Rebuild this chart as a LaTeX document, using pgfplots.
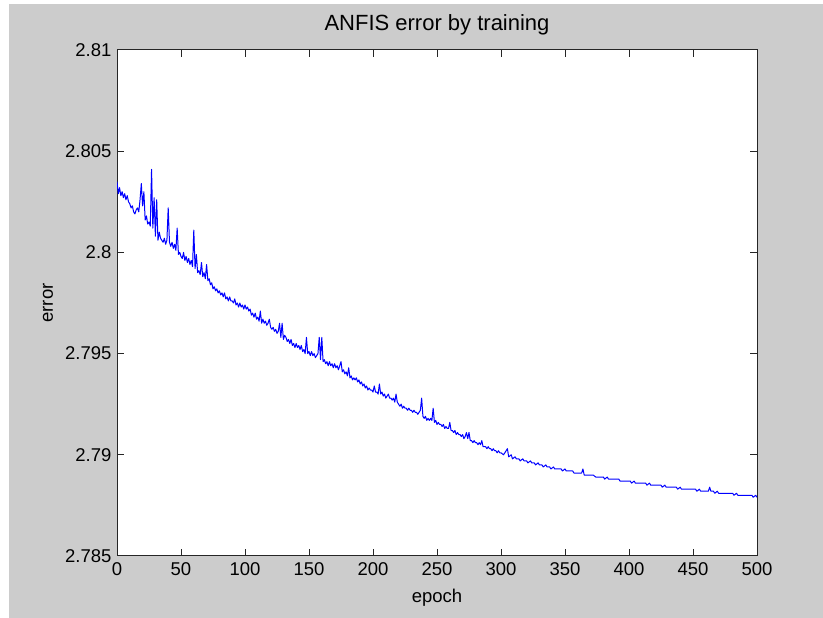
\documentclass[border=0pt]{standalone}
\usepackage{fontspec}
\setmainfont{Liberation Sans}
\usepackage{pgfplots}
\pgfplotsset{compat=1.18}
\definecolor{figgray}{RGB}{204,204,204}
\begin{document}
\begin{tikzpicture}
\fill[white] (0pt,0pt) rectangle (823pt,618pt);
\useasboundingbox (0pt,0pt) rectangle (823pt,618pt);
\fill[figgray] (9pt,0pt) rectangle (823pt,614pt);
\begin{axis}[
  at={(117pt,62pt)}, anchor=south west,
  scale only axis, width=640pt, height=506pt,
  xmin=0, xmax=500, ymin=2.785, ymax=2.81,
  axis background/.style={fill=white},
  axis line style={black!85, line width=1pt},
  xtick={0,50,100,150,200,250,300,350,400,450,500},
  xticklabels={0,50,100,150,200,250,300,350,400,450,500},
  ytick={2.785,2.79,2.795,2.8,2.805,2.81},
  yticklabels={2.785,2.79,2.795,2.8,2.805,2.81},
  tick align=inside, xtick pos=both, ytick pos=both,
  xticklabel pos=left, yticklabel pos=left,
  major tick length=7pt,
  tick style={black!85, line width=1pt},
  ticklabel style={font=\fontsize{18.5}{22}\selectfont},
  xticklabel style={yshift=-3pt},
  yticklabel style={xshift=-2pt},
  title={ANFIS error by training},
  title style={font=\fontsize{22}{26}\selectfont, at={(axis description cs:0.5,1)}, anchor=base, yshift=13pt},
  xlabel={epoch},
  xlabel style={font=\fontsize{18.5}{22}\selectfont, at={(axis description cs:0.5,0)}, anchor=base, yshift=-47pt},
  ylabel={error},
  ylabel style={font=\fontsize{18.5}{22}\selectfont, at={(axis description cs:-0.1,0.5)}, anchor=base},
]
\addplot[blue, line width=1pt, line join=round] coordinates {
(0,2.8035)(1,2.8029)(2,2.8032)(3,2.8028)(4,2.8030)(5,2.8027)(6,2.8029)(7,2.8026)(8,2.8028)(9,2.8025)
(10,2.8024)(11,2.8022)(12,2.8023)(13,2.8020)(14,2.8019)(15,2.8021)(16,2.8022)(17,2.8020)(18,2.8026)(19,2.8034)
(20,2.8023)(21,2.8030)(22,2.8016)(23,2.8018)(24,2.8014)(25,2.8015)(26,2.8013)(27,2.8041)(28,2.8012)(29,2.8027)
(30,2.8008)(31,2.8026)(32,2.8006)(33,2.8010)(34,2.8007)(35,2.8006)(36,2.8005)(37,2.8007)(38,2.8004)(39,2.8006)
(40,2.8022)(41,2.8005)(42,2.8003)(43,2.8005)(44,2.8002)(45,2.8004)(46,2.8001)(47,2.8012)(48,2.7999)(49,2.8000)
(50,2.7998)(51,2.7997)(52,2.8000)(53,2.7996)(54,2.7998)(55,2.7995)(56,2.7997)(57,2.7994)(58,2.7996)(59,2.7993)
(60,2.8011)(61,2.7992)(62,2.7999)(63,2.7990)(64,2.7991)(65,2.7989)(66,2.7995)(67,2.7988)(68,2.7990)(69,2.7987)
(70,2.7994)(71,2.7986)(72,2.7987)(73,2.7984)(74,2.7985)(75,2.7982)(76,2.7983)(77,2.7981)(78,2.7982)(79,2.7980)
(80,2.7981)(81,2.7979)(82,2.7980)(83,2.7978)(84,2.7980)(85,2.7977)(86,2.7978)(87,2.7976)(88,2.7978)(89,2.7976)
(90,2.7976)(91,2.7975)(92,2.7977)(93,2.7974)(94,2.7975)(95,2.7973)(96,2.7975)(97,2.7973)(98,2.7974)(99,2.7972)
(100,2.7974)(101,2.7972)(102,2.7973)(103,2.7971)(104,2.7972)(105,2.7969)(106,2.7970)(107,2.7968)(108,2.7970)(109,2.7967)
(110,2.7968)(111,2.7966)(112,2.7971)(113,2.7965)(114,2.7967)(115,2.7965)(116,2.7966)(117,2.7964)(118,2.7965)(119,2.7967)
(120,2.7963)(121,2.7962)(122,2.7963)(123,2.7961)(124,2.7962)(125,2.7960)(126,2.7961)(127,2.7965)(128,2.7958)(129,2.7965)
(130,2.7957)(131,2.7959)(132,2.7958)(133,2.7956)(134,2.7957)(135,2.7955)(136,2.7957)(137,2.7954)(138,2.7955)(139,2.7953)
(140,2.7955)(141,2.7953)(142,2.7954)(143,2.7952)(144,2.7954)(145,2.7951)(146,2.7952)(147,2.7950)(148,2.7958)(149,2.7950)
(150,2.7951)(151,2.7949)(152,2.7951)(153,2.7949)(154,2.7950)(155,2.7948)(156,2.7949)(157,2.7950)(158,2.7958)(159,2.7947)
(160,2.7958)(161,2.7946)(162,2.7947)(163,2.7945)(164,2.7946)(165,2.7944)(166,2.7946)(167,2.7944)(168,2.7945)(169,2.7943)
(170,2.7945)(171,2.7943)(172,2.7944)(173,2.7942)(174,2.7944)(175,2.7946)(176,2.7941)(177,2.7942)(178,2.7940)(179,2.7941)
(180,2.7939)(181,2.7943)(182,2.7938)(183,2.7939)(184,2.7937)(185,2.7938)(186,2.7937)(187,2.7938)(188,2.7936)(189,2.7937)
(190,2.7935)(191,2.7936)(192,2.7934)(193,2.7935)(194,2.7933)(195,2.7934)(196,2.7932)(197,2.7933)(198,2.7932)(199,2.7932)
(200,2.7931)(201,2.7934)(202,2.7931)(203,2.7931)(204,2.7930)(205,2.7935)(206,2.7930)(207,2.7931)(208,2.7929)(209,2.7930)
(210,2.7928)(211,2.7929)(212,2.7930)(213,2.7928)(214,2.7928)(215,2.7927)(216,2.7928)(217,2.7926)(218,2.7930)(219,2.7926)
(220,2.7925)(221,2.7924)(222,2.7925)(223,2.7923)(224,2.7924)(225,2.7923)(226,2.7923)(227,2.7922)(228,2.7923)(229,2.7922)
(230,2.7922)(231,2.7921)(232,2.7922)(233,2.7921)(234,2.7921)(235,2.7920)(236,2.7921)(237,2.7922)(238,2.7928)(239,2.7919)
(240,2.7918)(241,2.7919)(242,2.7917)(243,2.7918)(244,2.7917)(245,2.7918)(246,2.7917)(247,2.7923)(248,2.7916)(249,2.7917)
(250,2.7915)(251,2.7916)(252,2.7915)(253,2.7915)(254,2.7914)(255,2.7915)(256,2.7913)(257,2.7914)(258,2.7913)(259,2.7913)
(260,2.7916)(261,2.7912)(262,2.7912)(263,2.7911)(264,2.7912)(265,2.7910)(266,2.7911)(267,2.7910)(268,2.7910)(269,2.7909)
(270,2.7910)(271,2.7908)(272,2.7909)(273,2.7911)(274,2.7908)(275,2.7911)(276,2.7907)(277,2.7907)(278,2.7906)(279,2.7907)
(280,2.7906)(281,2.7906)(282,2.7905)(283,2.7906)(284,2.7905)(285,2.7907)(286,2.7904)(287,2.7904)(288,2.7904)(289,2.7903)
(290,2.7904)(291,2.7903)(292,2.7903)(293,2.7902)(294,2.7903)(295,2.7902)(296,2.7902)(297,2.7901)(298,2.7902)(299,2.7901)
(300,2.7901)(302,2.7900)(303,2.7901)(305,2.7903)(306,2.7899)(308,2.7900)(309,2.7898)(311,2.7899)(312,2.7898)(314,2.7898)
(315,2.7897)(317,2.7898)(318,2.7897)(320,2.7897)(321,2.7896)(323,2.7897)(324,2.7896)(326,2.7896)(327,2.7895)(329,2.7896)
(330,2.7895)(332,2.7895)(333,2.7894)(335,2.7895)(336,2.7894)(338,2.7894)(339,2.7893)(341,2.7894)(342,2.7893)(344,2.7893)
(345,2.7893)(347,2.7893)(348,2.7892)(350,2.7893)(351,2.7892)(353,2.7892)(354,2.7892)(356,2.7892)(357,2.7891)(359,2.7891)
(360,2.7891)(362,2.7891)(363,2.7891)(364,2.7893)(365,2.7890)(367,2.7890)(369,2.7890)(371,2.7890)(372,2.7890)(374,2.7889)
(375,2.7889)(377,2.7889)(378,2.7889)(380,2.7889)(381,2.7888)(383,2.7889)(384,2.7888)(386,2.7888)(387,2.7888)(389,2.7888)
(390,2.7888)(392,2.7888)(393,2.7887)(395,2.7887)(396,2.7887)(398,2.7887)(399,2.7887)(401,2.7887)(402,2.7886)(404,2.7887)
(405,2.7886)(407,2.7886)(408,2.7886)(410,2.7886)(411,2.7886)(413,2.7886)(414,2.7885)(416,2.7886)(417,2.7885)(419,2.7885)
(420,2.7885)(422,2.7885)(423,2.7885)(425,2.7885)(426,2.7884)(428,2.7885)(429,2.7884)(431,2.7884)(432,2.7884)(434,2.7884)
(435,2.7884)(437,2.7884)(438,2.7883)(440,2.7884)(441,2.7883)(443,2.7883)(444,2.7883)(446,2.7883)(447,2.7883)(449,2.7883)
(450,2.7883)(452,2.7883)(453,2.7882)(455,2.7883)(456,2.7882)(458,2.7882)(459,2.7882)(461,2.7882)(462,2.7882)(463,2.7884)
(464,2.7882)(466,2.7882)(467,2.7881)(469,2.7882)(470,2.7881)(472,2.7881)(473,2.7881)(475,2.7881)(476,2.7881)(478,2.7881)
(479,2.7881)(481,2.7881)(482,2.7880)(484,2.7881)(485,2.7880)(487,2.7880)(488,2.7880)(490,2.7880)(491,2.7880)(493,2.7880)
(494,2.7880)(496,2.7880)(497,2.7879)(499,2.7880)(500,2.7879)
};
\end{axis}
\end{tikzpicture}
\end{document}
